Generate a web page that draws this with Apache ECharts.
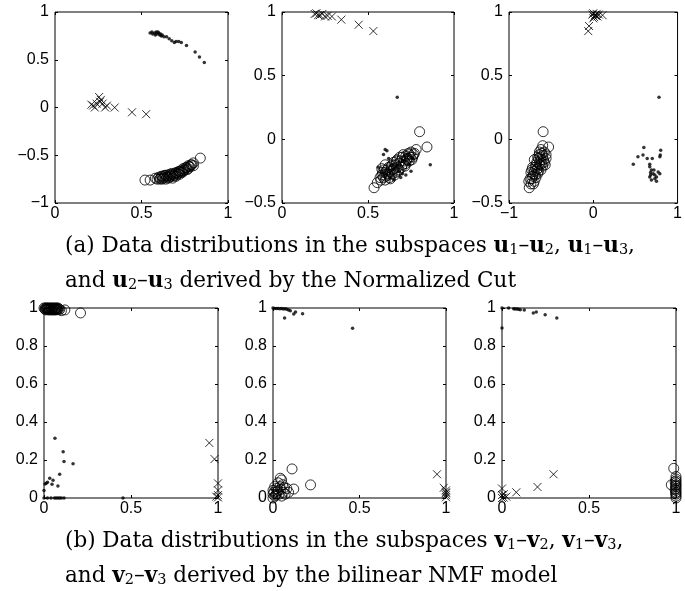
<!DOCTYPE html>
<html>
<head>
<meta charset="utf-8">
<script src="https://cdn.jsdelivr.net/npm/echarts@6/dist/echarts.min.js"></script>
<style>html,body{margin:0;padding:0;background:#fff}#c{width:685px;height:591px}</style>
</head>
<body>
<div id="c"></div>
<script>
// ---------- data ----------
// Panel (a1): u1 - u2
const p1Dots = [[0.55,0.78],[0.56,0.79],[0.565,0.77],[0.575,0.78],[0.58,0.76],[0.585,0.79],[0.59,0.77],[0.595,0.79],[0.60,0.78],[0.605,0.76],[0.61,0.77],[0.615,0.75],[0.62,0.76],[0.63,0.74],[0.645,0.74],[0.66,0.72],[0.675,0.70],[0.69,0.68],[0.70,0.69],[0.715,0.69],[0.73,0.68],[0.76,0.65],[0.81,0.58],[0.835,0.53],[0.863,0.47]];
const p1Cross = [[0.21,0.03],[0.22,0.02],[0.23,0.0],[0.24,0.04],[0.255,0.11],[0.26,0.06],[0.265,0.08],[0.275,0.04],[0.29,0.0],[0.30,0.02],[0.345,0.0],[0.445,-0.05],[0.527,-0.07]];
const p1Circ = [[0.52,-0.76],[0.55,-0.76],[0.58,-0.74],[0.59,-0.75],[0.60,-0.73],[0.605,-0.75],[0.61,-0.74],[0.615,-0.72],[0.62,-0.72],[0.62,-0.75],[0.625,-0.74],[0.63,-0.73],[0.635,-0.71],[0.64,-0.71],[0.64,-0.75],[0.645,-0.73],[0.65,-0.72],[0.655,-0.74],[0.66,-0.73],[0.66,-0.70],[0.665,-0.71],[0.67,-0.72],[0.675,-0.69],[0.68,-0.70],[0.68,-0.74],[0.685,-0.72],[0.69,-0.71],[0.695,-0.69],[0.70,-0.68],[0.70,-0.72],[0.705,-0.70],[0.71,-0.69],[0.715,-0.67],[0.72,-0.67],[0.72,-0.70],[0.725,-0.68],[0.73,-0.66],[0.735,-0.68],[0.74,-0.67],[0.74,-0.64],[0.745,-0.66],[0.75,-0.65],[0.755,-0.63],[0.76,-0.63],[0.765,-0.65],[0.77,-0.64],[0.77,-0.61],[0.775,-0.62],[0.78,-0.62],[0.785,-0.60],[0.79,-0.60],[0.80,-0.61],[0.80,-0.58],[0.84,-0.53]];
// Panel (a2): u1 - u3
const p2Dots = [[0.67,0.33],[0.862,-0.2],[0.60,-0.08],[0.61,-0.09],[0.59,-0.12],[0.62,-0.15],[0.64,-0.2],[0.66,-0.22],[0.68,-0.25],[0.70,-0.27],[0.72,-0.28],[0.60,-0.27],[0.58,-0.25],[0.63,-0.3],[0.65,-0.32],[0.74,-0.2],[0.76,-0.15],[0.75,-0.25],[0.69,-0.3],[0.71,-0.13],[0.73,-0.12],[0.56,-0.22]];
const p2Cross = [[0.19,0.985],[0.20,0.99],[0.21,0.975],[0.22,0.975],[0.235,0.985],[0.25,0.965],[0.265,0.97],[0.29,0.965],[0.345,0.94],[0.446,0.9],[0.531,0.85]];
const p2Circ = [[0.535,-0.38],[0.554,-0.34],[0.57,-0.3],[0.575,-0.32],[0.58,-0.28],[0.585,-0.26],[0.59,-0.3],[0.595,-0.24],[0.6,-0.26],[0.6,-0.32],[0.605,-0.29],[0.61,-0.24],[0.615,-0.27],[0.62,-0.28],[0.62,-0.22],[0.625,-0.3],[0.63,-0.25],[0.63,-0.31],[0.635,-0.21],[0.64,-0.2],[0.64,-0.27],[0.645,-0.24],[0.65,-0.23],[0.65,-0.18],[0.655,-0.28],[0.66,-0.26],[0.66,-0.2],[0.665,-0.17],[0.67,-0.22],[0.67,-0.16],[0.675,-0.25],[0.68,-0.19],[0.68,-0.24],[0.685,-0.14],[0.69,-0.17],[0.695,-0.22],[0.7,-0.2],[0.7,-0.14],[0.705,-0.12],[0.71,-0.17],[0.715,-0.21],[0.72,-0.13],[0.72,-0.19],[0.725,-0.16],[0.73,-0.15],[0.735,-0.11],[0.74,-0.12],[0.74,-0.17],[0.745,-0.14],[0.75,-0.1],[0.755,-0.16],[0.76,-0.14],[0.765,-0.12],[0.77,-0.11],[0.78,-0.08],[0.8,0.06],[0.843,-0.06],[0.6,-0.2],[0.58,-0.23]];
// Panel (a3): u2 - u3
const p3Dots = [[0.78,0.33],[0.475,-0.195],[0.53,-0.137],[0.59,-0.124],[0.6,-0.064],[0.64,-0.15],[0.67,-0.195],[0.70,-0.15],[0.67,-0.216],[0.69,-0.24],[0.68,-0.28],[0.71,-0.27],[0.73,-0.28],[0.75,-0.295],[0.77,-0.256],[0.79,-0.27],[0.795,-0.124],[0.80,-0.085],[0.79,-0.137],[0.69,-0.32],[0.75,-0.33],[0.73,-0.31],[0.67,-0.295],[0.68,-0.26],[0.72,-0.24]];
const p3Cross = [[-0.01,0.98],[0.0,0.99],[0.01,0.96],[0.02,0.975],[0.03,0.97],[0.04,0.985],[0.05,0.965],[0.066,0.98],[0.11,0.975],[-0.05,0.89],[-0.06,0.85],[0.0,0.95]];
const p3Circ = [[-0.595,0.06],[-0.53,-0.06],[-0.76,-0.38],[-0.765,-0.33],[-0.6,-0.05],[-0.62,-0.08],[-0.58,-0.1],[-0.64,-0.12],[-0.6,-0.13],[-0.56,-0.15],[-0.66,-0.14],[-0.62,-0.16],[-0.7,-0.16],[-0.58,-0.18],[-0.64,-0.19],[-0.68,-0.2],[-0.6,-0.21],[-0.72,-0.22],[-0.66,-0.23],[-0.62,-0.24],[-0.7,-0.25],[-0.74,-0.26],[-0.66,-0.27],[-0.72,-0.29],[-0.68,-0.3],[-0.75,-0.31],[-0.7,-0.33],[-0.74,-0.35],[-0.56,-0.12],[-0.64,-0.1],[-0.61,-0.11],[-0.65,-0.15],[-0.59,-0.16],[-0.63,-0.2],[-0.67,-0.18],[-0.69,-0.22],[-0.65,-0.25],[-0.71,-0.27],[-0.69,-0.28],[-0.73,-0.31],[-0.71,-0.35],[-0.63,-0.14],[-0.57,-0.2],[-0.61,-0.19],[-0.67,-0.24],[-0.73,-0.24]];
// Panel (b1): v1 - v2
const p4Dots = [[0.063,0.315],[0.11,0.244],[0.115,0.192],[0.167,0.18],[0.09,0.125],[0.033,0.104],[0.052,0.093],[0.046,0.072],[0.08,0.063],[0.006,0.074],[0.013,0.077],[0.0,0.04],[0.02,0.083],[0.0,0.0],[0.02,0.0],[0.04,0.0],[0.06,0.0],[0.07,0.0],[0.08,0.0],[0.09,0.0],[0.1,0.0],[0.115,0.0],[0.454,0.0]];
const p4Cross = [[0.95,0.29],[0.98,0.205],[1.0,0.077],[1.0,0.04],[1.0,0.015],[1.0,0.003],[0.99,0.007]];
const p4Circ = [[0.0,1.0],[0.005,0.995],[0.008,1.0],[0.01,0.99],[0.013,0.997],[0.015,1.0],[0.018,0.993],[0.02,1.0],[0.023,0.996],[0.025,0.99],[0.028,1.0],[0.03,0.994],[0.033,0.998],[0.035,0.99],[0.038,1.0],[0.04,0.995],[0.043,0.99],[0.045,1.0],[0.048,0.994],[0.05,0.998],[0.053,0.99],[0.055,1.0],[0.058,0.995],[0.06,0.99],[0.063,1.0],[0.065,0.994],[0.068,0.998],[0.07,0.99],[0.073,1.0],[0.075,0.995],[0.078,0.992],[0.08,1.0],[0.085,0.995],[0.09,0.992],[0.1,0.986],[0.12,0.99],[0.21,0.974]];
// Panel (b2): v1 - v3
const p5Dots = [[0.0,1.0],[0.01,0.998],[0.02,0.997],[0.03,0.998],[0.04,0.996],[0.05,0.997],[0.06,0.995],[0.07,0.996],[0.08,0.994],[0.09,0.99],[0.067,0.947],[0.12,0.968],[0.13,0.979],[0.171,0.97],[0.46,0.893],[0.1,0.985]];
const p5Cross = [[0.948,0.125],[0.987,0.054],[1.0,0.04],[1.0,0.025],[1.0,0.015],[1.0,0.004],[1.0,0.03]];
const p5Circ = [[0.11,0.153],[0.217,0.069],[0.12,0.047],[0.042,0.104],[0.05,0.095],[0.0,0.0],[0.01,0.01],[0.02,0.02],[0.005,0.03],[0.03,0.04],[0.04,0.06],[0.02,0.05],[0.06,0.03],[0.07,0.02],[0.08,0.05],[0.03,0.08],[0.01,0.06],[0.05,0.01],[0.09,0.03],[0.0,0.04],[0.015,0.015],[0.025,0.035],[0.035,0.02],[0.045,0.045],[0.055,0.07],[0.065,0.055],[0.0,0.02]];
// Panel (b3): v2 - v3
const p6Dots = [[0,1],[0.038,1],[0.067,0.996],[0.075,0.995],[0.086,0.995],[0.095,0.993],[0.105,0.991],[0.128,0.99],[0.18,0.974],[0.197,0.979],[0.248,0.965],[0.315,0.947],[0,0.895]];
const p6Cross = [[0,0.05],[0.01,0.02],[0,0.016],[0.025,0.007],[0.082,0.03],[0.204,0.058],[0.296,0.125],[0.01,0.002],[0,0.0]];
const p6Circ = [[0.987,0.156],[0.973,0.069],[1,0.113],[1,0.1],[1,0.09],[1,0.08],[1,0.07],[1,0.06],[1,0.05],[1,0.04],[1,0.03],[1,0.02],[1,0.01],[1,0.0],[0.995,0.085],[0.995,0.045],[0.998,0.025],[0.998,0.065]];

// axis ranges [min, max, interval]
const xRanges = [[0,1,0.5],[0,1,0.5],[-1,1,1],[0,1,0.5],[0,1,0.5],[0,1,0.5]];
const yRanges = [[-1,1,0.5],[-0.5,1,0.5],[-0.5,1,0.5],[0,1,0.2],[0,1,0.2],[0,1,0.2]];

const captionA1 = '(a) Data distributions in the subspaces {b|u}{s|1}–{b|u}{s|2}, {b|u}{s|1}–{b|u}{s|3},';
const captionA2 = 'and {b|u}{s|2}–{b|u}{s|3} derived by the Normalized Cut';
const captionB1 = '(b) Data distributions in the subspaces {b|v}{s|1}–{b|v}{s|2}, {b|v}{s|1}–{b|v}{s|3},';
const captionB2 = 'and {b|v}{s|2}–{b|v}{s|3} derived by the bilinear NMF model';

// ---------- layout ----------
const panels = [
  {dots:p1Dots, cross:p1Cross, circ:p1Circ},
  {dots:p2Dots, cross:p2Cross, circ:p2Circ},
  {dots:p3Dots, cross:p3Cross, circ:p3Circ},
  {dots:p4Dots, cross:p4Cross, circ:p4Circ},
  {dots:p5Dots, cross:p5Cross, circ:p5Circ},
  {dots:p6Dots, cross:p6Cross, circ:p6Circ}
];
const gridBoxes = [[55,12,173,191],[282,12,172,191],[509,12,171,191],[44,308,174,190],[273,308,173,190],[502,308,174,190]];

const fmt = v => String(Math.round(v*100)/100).replace('-', '\u2212');
const labelFont = {fontFamily:'Liberation Sans, Arial, sans-serif', fontSize:16, color:'#000'};

const grid = [], xAxis = [], yAxis = [], series = [];
gridBoxes.forEach((b,i) => {
  grid.push({left:b[0], top:b[1], width:b[2], height:b[3], show:true, borderColor:'#000', borderWidth:1, backgroundColor:'#fff', containLabel:false});
  const xr = xRanges[i], yr = yRanges[i];
  ['bottom','top'].forEach((pos,k) => {
    xAxis.push({type:'value', gridIndex:i, position:pos, min:xr[0], max:xr[1], interval:xr[2],
      axisLine:{show:false, onZero:false}, splitLine:{show:false},
      axisTick:{show:true, inside:true, length:3, lineStyle:{color:'#000'}},
      axisLabel:Object.assign({show:k===0, margin:3, formatter:fmt}, labelFont)});
  });
  ['left','right'].forEach((pos,k) => {
    yAxis.push({type:'value', gridIndex:i, position:pos, min:yr[0], max:yr[1], interval:yr[2],
      axisLine:{show:false, onZero:false}, splitLine:{show:false},
      axisTick:{show:true, inside:true, length:3, lineStyle:{color:'#000'}},
      axisLabel:Object.assign({show:k===0, margin:6, formatter:fmt}, labelFont)});
  });
  const p = panels[i];
  series.push({type:'scatter', xAxisIndex:2*i, yAxisIndex:2*i, data:p.circ, clip:false, silent:true,
    symbol:'circle', symbolSize:10, itemStyle:{color:'rgba(0,0,0,0)', borderColor:'#000', borderWidth:1}});
  series.push({type:'scatter', xAxisIndex:2*i, yAxisIndex:2*i, data:p.cross, clip:false, silent:true,
    symbol:'path://M0,0L10,10M10,0L0,10', symbolSize:8, itemStyle:{color:'rgba(0,0,0,0)', borderColor:'#000', borderWidth:1}});
  series.push({type:'scatter', xAxisIndex:2*i, yAxisIndex:2*i, data:p.dots, clip:false, silent:true,
    symbol:'circle', symbolSize:3.5, itemStyle:{color:'#000'}});
});

const capStyle = {
  fontFamily:'DejaVu Serif, serif', fontSize:21.5, fontWeight:'normal', color:'#000', lineHeight:24,
  rich:{
    b:{fontFamily:'DejaVu Serif, serif', fontSize:21.5, fontWeight:'bold', color:'#000', lineHeight:24},
    s:{fontFamily:'DejaVu Serif, serif', fontSize:14.5, color:'#000', lineHeight:14, verticalAlign:'bottom'}
  }
};
const title = [
  {text:captionA1, left:65, top:234, padding:0, textStyle:capStyle},
  {text:captionA2, left:65, top:269, padding:0, textStyle:capStyle},
  {text:captionB1, left:65, top:529, padding:0, textStyle:capStyle},
  {text:captionB2, left:65, top:564, padding:0, textStyle:capStyle}
];

const chart = echarts.init(document.getElementById('c'), null, {renderer:'canvas'});
chart.setOption({backgroundColor:'#fff', animation:false, title, grid, xAxis, yAxis, series});
</script>
</body>
</html>
